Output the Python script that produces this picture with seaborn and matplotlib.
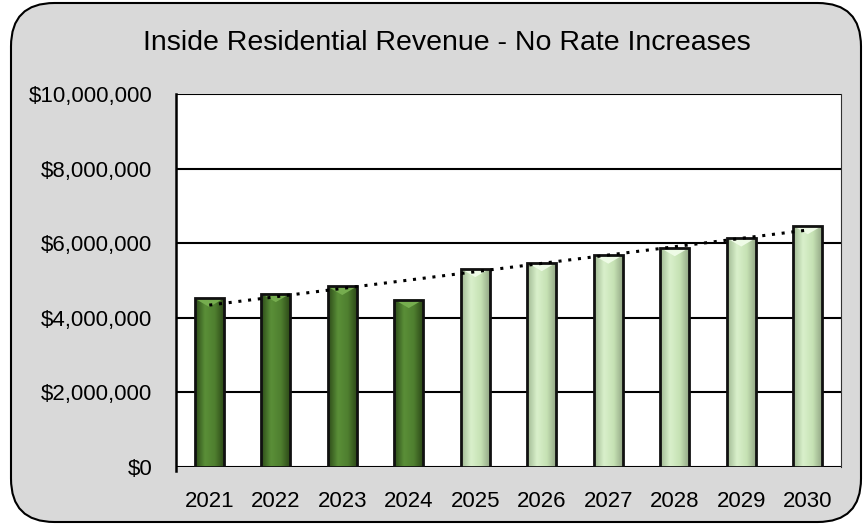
import numpy as np
import pandas as pd
import matplotlib
matplotlib.use("Agg")
import matplotlib.pyplot as plt
import seaborn as sns
from matplotlib.patches import FancyBboxPatch, Polygon
from matplotlib.colors import LinearSegmentedColormap
from matplotlib.ticker import FuncFormatter

years = ["2021", "2022", "2023", "2024", "2025", "2026", "2027", "2028", "2029", "2030"]
revenue = [4520000, 4650000, 4840000, 4490000, 5320000, 5480000, 5680000, 5880000, 6140000, 6470000]
kind = ["Actual"] * 4 + ["Projected"] * 6

df = pd.DataFrame({"year": years, "revenue": revenue, "kind": kind})

sns.set_theme(style="white")
plt.rcParams["font.family"] = ["Liberation Sans", "DejaVu Sans"]

fig = plt.figure(figsize=(8.67, 5.25), dpi=100)
fig.patch.set_facecolor("white")

# rounded grey chart frame, drawn behind the axes
frame = FancyBboxPatch((11 / 867, 3 / 525), 850 / 867, 519 / 525,
                       boxstyle="round,pad=0,rounding_size=0.05",
                       transform=fig.transFigure, facecolor="#d9d9d9",
                       edgecolor="black", linewidth=1.5, zorder=-10,
                       mutation_aspect=867 / 525)
fig.patches.append(frame)

ax = fig.add_axes([176 / 867, 1 - 467 / 525, (841 - 176) / 867, (467 - 94) / 525])
ax.set_zorder(1)
ax.set_facecolor("white")

palette = {"Actual": "#4e7d2e", "Projected": "#c9e6b6"}
sns.barplot(data=df, x="year", y="revenue", hue="kind", palette=palette,
            dodge=False, width=0.44, edgecolor="#111111", linewidth=2.0,
            legend=False, ax=ax, zorder=3)

# cylinder-like shading on each bar, plus the bevel at the top
dark_cmap = LinearSegmentedColormap.from_list("d", ["#2c4a18", "#5a8f38", "#4f7f2f", "#2a4516"])
light_cmap = LinearSegmentedColormap.from_list("l", ["#9fb892", "#d9f0cb", "#c6e2b4", "#8fa382"])
grad = np.linspace(0, 1, 64).reshape(1, -1)
bevel_depth = 230000
for bar, k in zip(ax.patches, kind):
    x0, y0 = bar.get_x(), bar.get_y()
    w, h = bar.get_width(), bar.get_height()
    cmap = dark_cmap if k == "Actual" else light_cmap
    im = ax.imshow(grad, extent=[x0, x0 + w, y0, y0 + h], aspect="auto",
                   cmap=cmap, zorder=3.5, interpolation="bicubic")
    im.set_clip_path(bar)
    top = y0 + h
    tri = Polygon([[x0, top], [x0 + w, top], [x0 + w / 2, top - bevel_depth]],
                  closed=True, facecolor="#76ad4f" if k == "Actual" else "#eefbe6",
                  edgecolor="none", zorder=3.7)
    ax.add_patch(tri)
    bar.set_zorder(4)
    bar.set_facecolor("none")

# linear trendline
xs = np.arange(len(years))
coef = np.polyfit(xs, revenue, 1)
ax.plot(xs, np.polyval(coef, xs), linestyle=(0, (1, 2.2)), color="black",
        linewidth=2.2, zorder=5)

ax.set_xlim(-0.5, len(years) - 0.5)
ax.set_ylim(0, 10000000)
ax.set_yticks(np.arange(0, 10000001, 2000000))
ax.yaxis.set_major_formatter(FuncFormatter(lambda v, p: f"${v:,.0f}"))
ax.grid(axis="y", color="black", linewidth=1.5, zorder=1)
ax.set_axisbelow(True)
ax.set_xlabel("")
ax.set_ylabel("")
ax.tick_params(axis="both", labelsize=16, colors="black", length=0)
ax.tick_params(axis="y", pad=17)
ax.tick_params(axis="x", pad=17)

for s in ["top", "bottom"]:
    ax.spines[s].set_visible(False)
ax.spines["left"].set_color("black")
ax.spines["left"].set_linewidth(1.8)
ax.spines["left"].set_bounds(-120000, 10000000)
ax.spines["right"].set_color("#333333")
ax.spines["right"].set_linewidth(0.8)

fig.text(0.515, 1 - 43 / 525, "Inside Residential Revenue - No Rate Increases",
         ha="center", va="center", fontsize=20.5, color="black")

fig.savefig("out.png", dpi=100, facecolor=fig.get_facecolor())
